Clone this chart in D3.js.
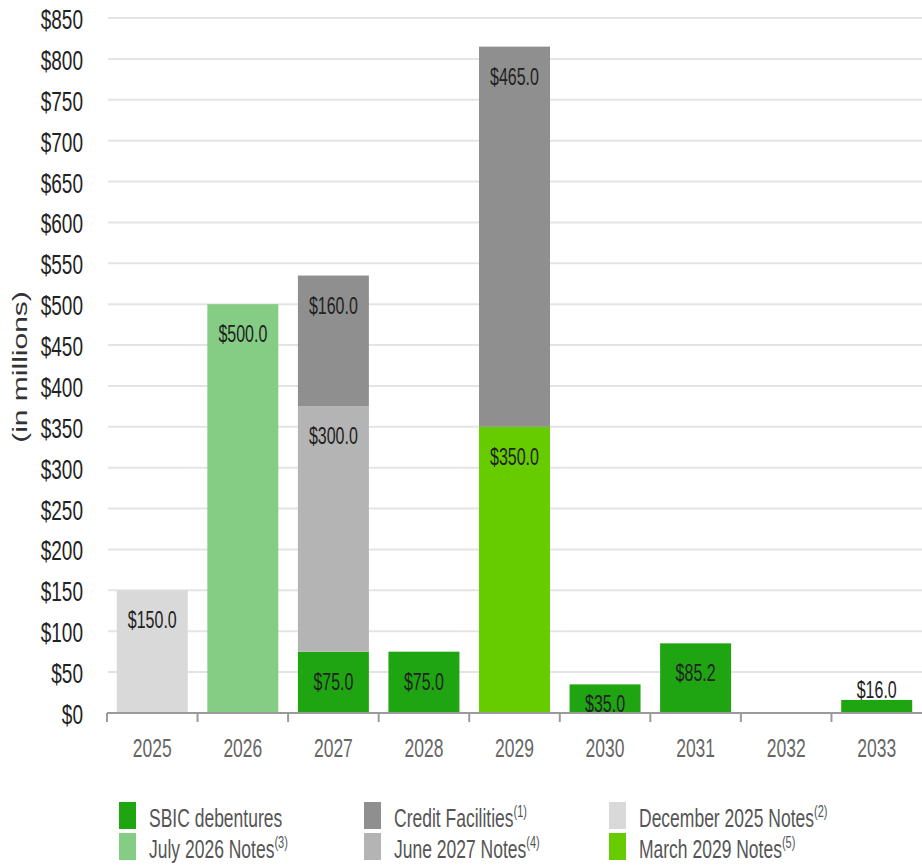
<!DOCTYPE html>
<html><head><meta charset="utf-8">
<script src="https://cdn.jsdelivr.net/npm/d3@7"></script>
<style>
html,body{margin:0;padding:0;background:#fff;}
svg text{font-family:"Liberation Sans",Arial,sans-serif;}
</style></head>
<body><svg id="c" width="922" height="865"></svg>
<script>
const years = ["2025","2026","2027","2028","2029","2030","2031","2032","2033"];
const seriesNames = ["SBIC debentures","December 2025 Notes","July 2026 Notes","June 2027 Notes","March 2029 Notes","Credit Facilities"];
const sbic      = [0,0,75,75,0,35,85.2,0,16];
const dec2025   = [150,0,0,0,0,0,0,0,0];
const jul2026   = [0,500,0,0,0,0,0,0,0];
const jun2027   = [0,0,300,0,0,0,0,0,0];
const mar2029   = [0,0,0,0,350,0,0,0,0];
const credit    = [0,0,160,0,465,0,0,0,0];
const yTicks = [0,50,100,150,200,250,300,350,400,450,500,550,600,650,700,750,800,850];
const legendItems = [
  {name:"SBIC debentures", sup:""},
  {name:"Credit Facilities", sup:"(1)"},
  {name:"December 2025 Notes", sup:"(2)"},
  {name:"July 2026 Notes", sup:"(3)"},
  {name:"June 2027 Notes", sup:"(4)"},
  {name:"March 2029 Notes", sup:"(5)"}
];
const colors = {
  "SBIC debentures":"#1fa512",
  "December 2025 Notes":"#d9d9d9",
  "July 2026 Notes":"#85cd85",
  "June 2027 Notes":"#b4b4b4",
  "March 2029 Notes":"#66cc00",
  "Credit Facilities":"#8f8f8f"
};
const seriesVals = [sbic,dec2025,jul2026,jun2027,mar2029,credit];
const SY = 1.5; // vertical stretch of the lettering

const rows = years.map((y,i)=>{const o={year:y}; seriesNames.forEach((s,k)=>o[s]=seriesVals[k][i]); return o;});
const stack = d3.stack().keys(seriesNames)(rows);

const svg = d3.select("#c");
const x = d3.scaleBand().domain(years).range([107,922]).paddingInner(0.216).paddingOuter(0.108);
const y = d3.scaleLinear().domain([0,850]).range([713,18]);
const step = x.step(), halfGap = x.paddingInner()*step/2;

// gridlines
svg.append("g").selectAll("line").data(yTicks.filter(d=>d>0)).join("line")
  .attr("x1",108).attr("x2",922).attr("y1",d=>y(d)).attr("y2",d=>y(d))
  .attr("stroke","#e4e4e4").attr("stroke-width",2);

// y labels
svg.append("g").selectAll("text").data(yTicks).join("text")
  .attr("transform",d=>`translate(83,${y(d)+11}) scale(1,${SY})`).attr("text-anchor","end")
  .attr("font-size",19).attr("fill","#222").text(d=>"$"+d);

// y title
svg.append("text").attr("transform",`translate(27,367) rotate(-90) scale(${SY},1)`)
  .attr("text-anchor","middle").attr("font-size",20).attr("fill","#333").text("(in millions)");

// bars
const layers = svg.append("g").selectAll("g").data(stack).join("g").attr("fill",d=>colors[d.key]);
layers.selectAll("rect").data(d=>d.filter(s=>s[1]-s[0]>0)).join("rect")
  .attr("x",d=>x(d.data.year)).attr("width",x.bandwidth())
  .attr("y",d=>y(d[1])).attr("height",d=>y(d[0])-y(d[1]));

// value labels
stack.forEach(layer=>{
  layer.forEach(s=>{
    const v = s[1]-s[0];
    if(v<=0) return;
    const top=y(s[1]), bot=y(s[0]), h=bot-top;
    const base = h<20 ? top-2 : Math.min(top+38, bot-1);
    svg.append("text")
      .attr("transform",`translate(${x(s.data.year)+x.bandwidth()/2},${base}) scale(1,${SY})`)
      .attr("text-anchor","middle").attr("font-size",16).attr("fill","#222")
      .text("$"+v.toFixed(1));
  });
});

// x axis line + ticks
const ax = svg.append("g");
ax.append("line").attr("x1",107).attr("x2",922).attr("y1",713).attr("y2",713).attr("stroke","#9a9a9a").attr("stroke-width",2);
ax.selectAll("line.t").data(years).join("line").attr("class","t")
  .attr("x1",d=>x(d)-halfGap).attr("x2",d=>x(d)-halfGap).attr("y1",713).attr("y2",722)
  .attr("stroke","#9a9a9a").attr("stroke-width",2);
ax.selectAll("text").data(years).join("text")
  .attr("transform",d=>`translate(${x(d)+x.bandwidth()/2},757) scale(1,${SY})`).attr("text-anchor","middle")
  .attr("font-size",17.5).attr("fill","#666").text(d=>d);

// legend
const colX = [119,364,609];
const rowY = [802,833];
const lg = svg.append("g");
legendItems.forEach((it,i)=>{
  const cx = colX[i%3], ry = rowY[Math.floor(i/3)];
  lg.append("rect").attr("x",cx).attr("y",ry).attr("width",17).attr("height",27).attr("fill",colors[it.name]);
  const t = lg.append("text").attr("transform",`translate(${cx+30},${ry+25}) scale(1,${SY})`)
    .attr("font-size",17.5).attr("fill","#555");
  t.append("tspan").text(it.name);
  if(it.sup) t.append("tspan").attr("dy",-7).attr("font-size",11).text(it.sup);
});
</script></body></html>
